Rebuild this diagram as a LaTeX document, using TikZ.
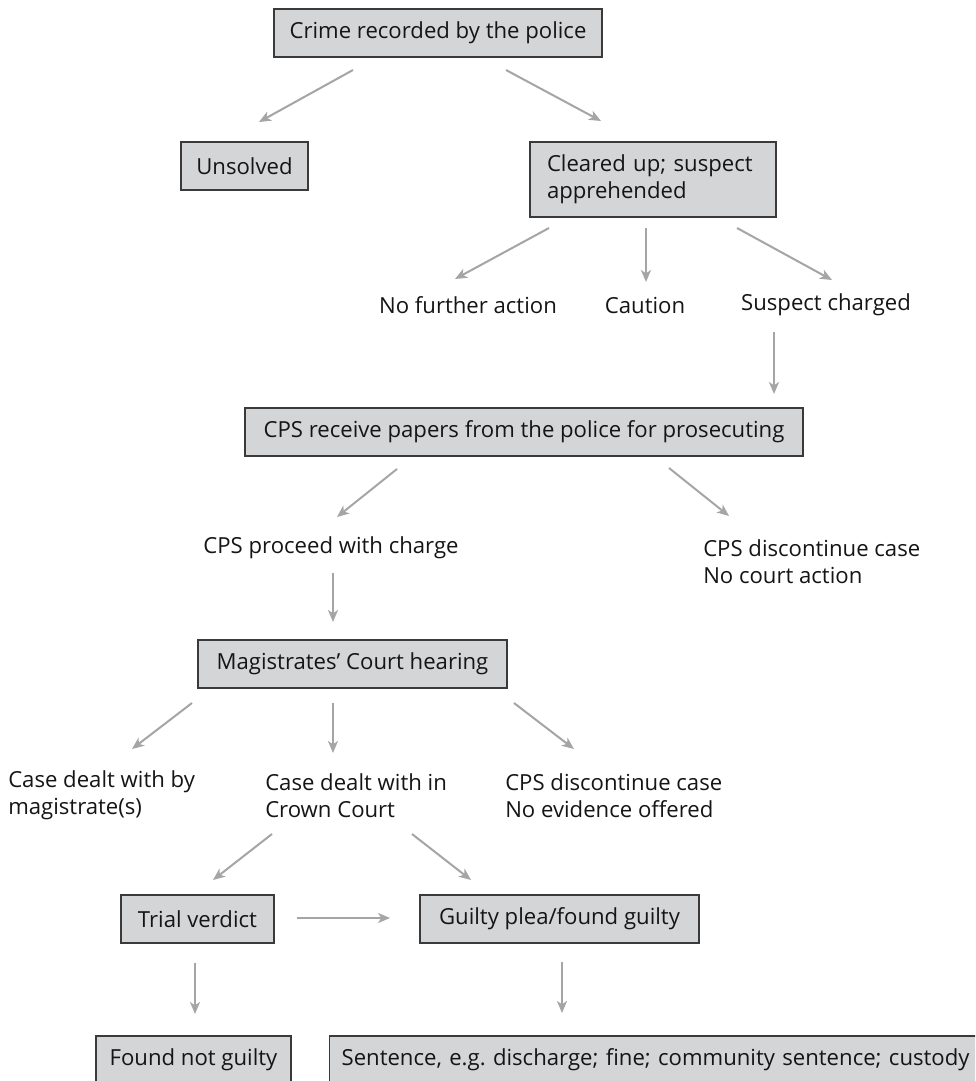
\documentclass[tikz,border=0pt]{standalone}
\usepackage{fontspec}
\setmainfont{Open Sans}
\usetikzlibrary{arrows.meta}
\definecolor{boxfill}{HTML}{D4D5D7}
\definecolor{boxline}{HTML}{3A3A3A}
\definecolor{arrgrey}{HTML}{A5A5A7}
\definecolor{txt}{HTML}{151515}
\newcommand{\fs}{\fontsize{16.6}{20.25}\selectfont}
\frenchspacing
\begin{document}
\begin{tikzpicture}[x=0.75pt,y=-0.75pt,
  boxnode/.style={draw=boxline, fill=boxfill, line width=0.9pt, inner sep=0pt,
    minimum height=36pt, font=\fs, text=txt, align=center},
  lbl/.style={inner sep=0pt, font=\fs, text=txt, align=left},
  arr/.style={draw=arrgrey, line width=1.5pt, -{Stealth[length=9pt,width=7.5pt,inset=2.5pt]}}]
\clip (0,0) rectangle (975,1081);
\fill[white] (0,0) rectangle (975,1081);

% boxes
\node[boxnode, minimum width=246pt] (crime) at (438,33) {Crime recorded by the police};
\node[boxnode, minimum width=95.25pt] (unsolved) at (244.5,166) {Unsolved};
\node[boxnode, minimum height=56.25pt, text width=159pt, inner xsep=12.75pt, align=left] (cleared) at (653,179.5) {Cleared up; suspect\\apprehended};
\node[boxnode, minimum width=418.5pt] (cps) at (524,432) {CPS receive papers from the police for prosecuting};
\node[boxnode, minimum width=231.75pt] (mag) at (352.5,664) {Magistrates’ Court hearing};
\node[boxnode, minimum width=114.75pt] (trial) at (197.5,919) {Trial verdict};
\node[boxnode, minimum width=209.25pt] (guilty) at (559.5,919) {Guilty plea/found guilty};
\node[boxnode, minimum width=146.25pt] (notguilty) at (193.5,1060) {Found not guilty};
\node[boxnode, minimum width=525pt, inner xsep=9pt, anchor=west, text width=507pt, align=left] (sentence) at (329,1060) {Sentence, e.g. discharge; fine; community sentence; custody};

% labels
\node[lbl] (nfa) at (468,305) {No further action};
\node[lbl] (caution) at (645,305) {Caution};
\node[lbl] (suspect) at (826,305) {Suspect charged};
\node[lbl] (proceed) at (331,548) {CPS proceed with charge};
\node[lbl, anchor=west] (disc1) at (703,561.5) {CPS discontinue case\\No court action};
\node[lbl, anchor=west] (dealtby) at (8,795.5) {Case dealt with by\\magistrate(s)};
\node[lbl, anchor=west] (dealtin) at (265,795.5) {Case dealt with in\\Crown Court};
\node[lbl, anchor=west] (disc2) at (505,795.5) {CPS discontinue case\\No evidence offered};

% connector end points
\coordinate (a1s) at (353,70);  \coordinate (a1e) at (259,122);
\coordinate (a2s) at (506,70);  \coordinate (a2e) at (601,121);
\coordinate (a3s) at (549,228); \coordinate (a3e) at (455,279);
\coordinate (a4s) at (646,228); \coordinate (a4e) at (646,282);
\coordinate (a5s) at (737,228); \coordinate (a5e) at (832,280);
\coordinate (a6s) at (774,332); \coordinate (a6e) at (774,394);
\coordinate (a7s) at (397,469); \coordinate (a7e) at (337,517);
\coordinate (a8s) at (669,468); \coordinate (a8e) at (729,516);
\coordinate (a9s) at (333,573); \coordinate (a9e) at (333,622);
\coordinate (a10s) at (192,703); \coordinate (a10e) at (132,749);
\coordinate (a11s) at (333,703); \coordinate (a11e) at (333,753);
\coordinate (a12s) at (514,703); \coordinate (a12e) at (574,749);
\coordinate (a13s) at (272,834); \coordinate (a13e) at (213,880);
\coordinate (a14s) at (412,834); \coordinate (a14e) at (471,880);
\coordinate (a15s) at (297,918); \coordinate (a15e) at (390,918);
\coordinate (a16s) at (195,963); \coordinate (a16e) at (195,1014);
\coordinate (a17s) at (562,962); \coordinate (a17e) at (562,1013);

\foreach \i in {1,...,17} {\draw[arr] (a\i s) -- (a\i e);}
\end{tikzpicture}
\end{document}
